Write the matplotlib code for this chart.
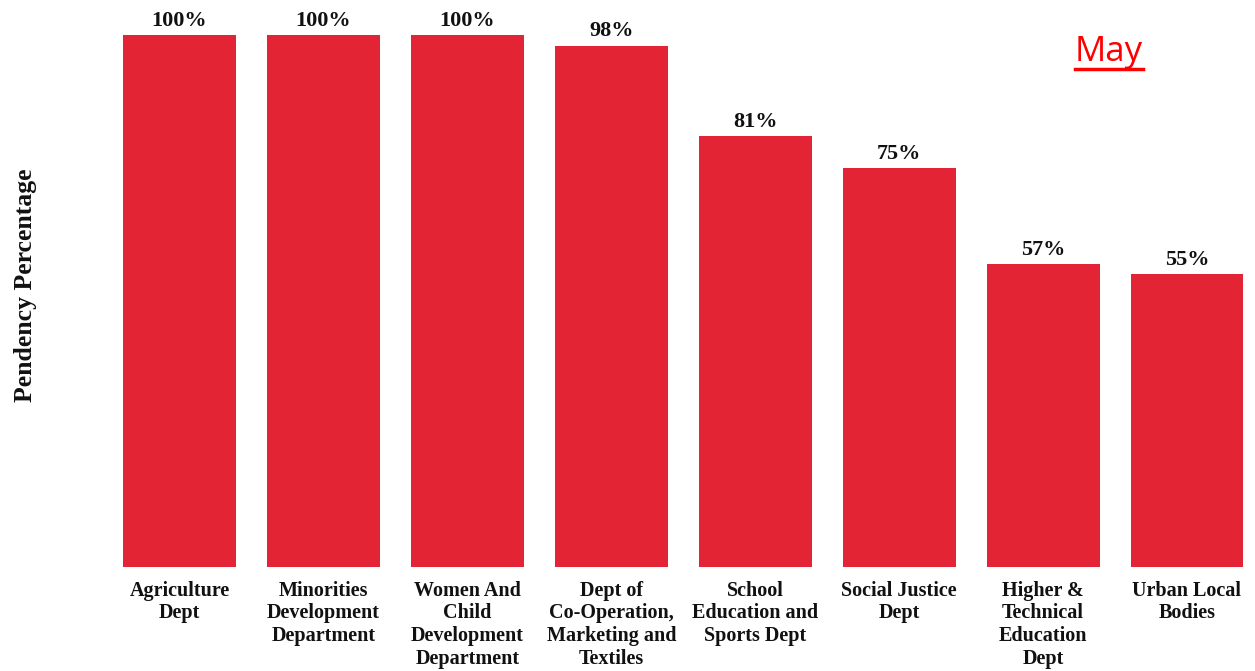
import matplotlib.pyplot as plt
from matplotlib.lines import Line2D

# ---- DATA ----
departments = [
    "Agriculture\nDept",
    "Minorities\nDevelopment\nDepartment",
    "Women And\nChild\nDevelopment\nDepartment",
    "Dept of\nCo-Operation,\nMarketing and\nTextiles",
    "School\nEducation and\nSports Dept",
    "Social Justice\nDept",
    "Higher &\nTechnical\nEducation\nDept",
    "Urban Local\nBodies",
]
pendency = [100, 100, 100, 98, 81, 75, 57, 55]
month = "May"

BAR_COLOR = "#E32434"
SERIF = ["Liberation Serif", "DejaVu Serif"]

W, H = 1255, 671
fig = plt.figure(figsize=(W / 100, H / 100), dpi=100)
fig.patch.set_facecolor("white")

# axes spans full width; bars placed via xlim so they sit where wanted
ax = fig.add_axes([0, 104 / H, 1, 1 - 104 / H])
x = list(range(len(departments)))
bars = ax.bar(x, pendency, width=0.785, color=BAR_COLOR, edgecolor="none")
ax.set_xlim(-1.247, 7.4725)
ax.set_ylim(0, (H - 104) / 5.32)

for bar, val in zip(bars, pendency):
    ax.annotate(f"{val}%", (bar.get_x() + bar.get_width() / 2, bar.get_height()),
                xytext=(0, 3), textcoords="offset points",
                ha="center", va="bottom", fontsize=16, fontweight="bold",
                family=SERIF, color="#111111")

ax.set_xticks(x)
ax.set_xticklabels(departments, fontsize=14.5, fontweight="bold",
                   family=SERIF, color="#111111", linespacing=1.17)
ax.tick_params(axis="x", length=0, pad=10)
ax.set_yticks([])
for s in ax.spines.values():
    s.set_visible(False)

fig.text(26 / W, 1 - 285 / H, "Pendency Percentage", rotation=90,
         ha="center", va="center", fontsize=18.5, fontweight="bold",
         family=SERIF, color="#111111")

# month tag, red and underlined
fig.text(1109 / W, 1 - 52 / H, month, ha="center", va="center",
         fontsize=25, fontweight="normal", family=["Open Sans", "DejaVu Sans"],
         color="#FF0000")
fig.add_artist(Line2D([1075 / W, 1143 / W], [1 - 69 / H, 1 - 69 / H],
                      color="#FF0000", linewidth=2.5))

plt.savefig("out.png", dpi=100)
